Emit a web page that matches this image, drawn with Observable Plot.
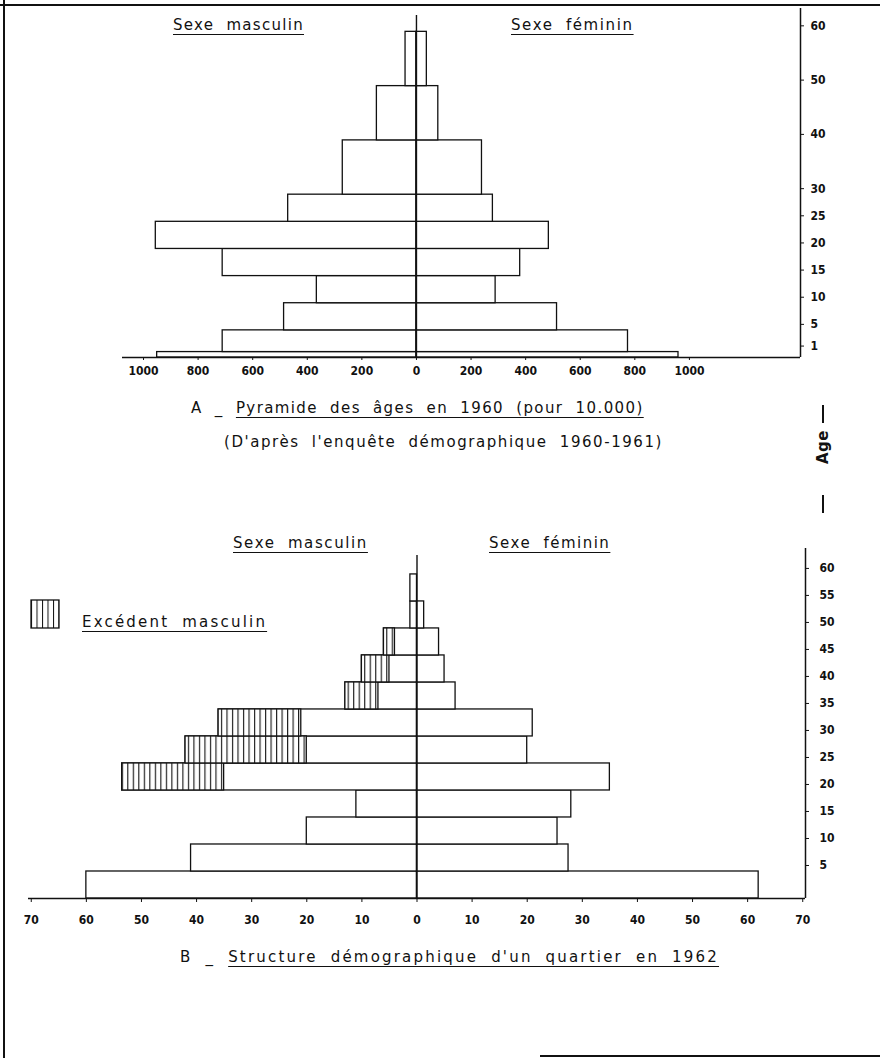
<!DOCTYPE html>
<html>
<head>
<meta charset="utf-8">
<script src="https://cdn.jsdelivr.net/npm/d3@7"></script>
<script src="https://cdn.jsdelivr.net/npm/@observablehq/plot@0.6"></script>
<style>
  body { margin: 0; background: #fff; }
  #page { position: relative; width: 880px; height: 1058px; background: #fff; overflow: hidden;
          font-family: "DejaVu Sans", sans-serif; color: #111; }
  .lbl { position: absolute; white-space: pre; font-size: 15px; line-height: 18px;
         letter-spacing: 0.5px; word-spacing: 6px; }
  .u { text-decoration: underline; text-decoration-thickness: 1.3px; text-underline-offset: 4px; }
  .plot { position: absolute; left: 0; }
  .line { position: absolute; background: #111; }
</style>
</head>
<body>
<div id="page">
  <div class="line" style="left:3px;top:0;width:1.5px;height:1058px"></div>
  <div class="line" style="left:0;top:4px;width:880px;height:1.5px"></div>
  <div class="line" style="left:540px;top:1055px;width:340px;height:1.5px"></div>

  <div id="plotA" class="plot" style="top:0"></div>
  <div id="plotB" class="plot" style="top:500px"></div>

  <div class="lbl u" style="left:173px;top:16px;letter-spacing:1.3px">Sexe masculin</div>
  <div class="lbl u" style="left:511px;top:16px;letter-spacing:1.6px">Sexe féminin</div>

  <div class="lbl" style="left:191px;top:399px;letter-spacing:1.4px">A _ <span class="u">Pyramide des âges en 1960 (pour 10.000)</span></div>
  <div class="lbl" style="left:224px;top:433px;letter-spacing:1.55px">(D'après l'enquête démographique 1960-1961)</div>

  <div class="line" style="left:822px;top:405px;width:1.5px;height:18px"></div>
  <div class="lbl" style="left:800px;top:438px;width:46px;text-align:center;font-weight:bold;transform:rotate(-90deg);letter-spacing:0.5px">Age</div>
  <div class="line" style="left:822px;top:495px;width:1.5px;height:18px"></div>

  <div class="lbl u" style="left:233px;top:534px;letter-spacing:1.6px">Sexe masculin</div>
  <div class="lbl u" style="left:489px;top:534px;letter-spacing:1.5px">Sexe féminin</div>

  <svg style="position:absolute;left:30px;top:599px" width="31" height="31">
    <defs>
      <pattern id="hatchLegend" patternUnits="userSpaceOnUse" width="5.5" height="10" x="1">
        <rect width="5.5" height="10" fill="white"></rect>
        <line x1="0.5" y1="0" x2="0.5" y2="10" stroke="#111" stroke-width="1"></line>
      </pattern>
    </defs>
    <rect x="1" y="1" width="28" height="28" fill="url(#hatchLegend)" stroke="#111" stroke-width="1.3"></rect>
  </svg>
  <div class="lbl u" style="left:82px;top:613px;letter-spacing:2.2px">Excédent masculin</div>

  <div class="lbl" style="left:180px;top:948px;letter-spacing:2.2px">B _ <span class="u">Structure démographique d'un quartier en 1962</span></div>
</div>

<script>
// ---------- Panel A : Pyramide des âges en 1960 (pour 10.000) ----------
const ageStartA = [0, 1, 5, 10, 15, 20, 25, 30, 40, 50];
const ageEndA   = [1, 5, 10, 15, 20, 25, 30, 40, 50, 60];
const maleA     = [950, 710, 485, 365, 710, 955, 470, 270, 145, 40];
const femaleA   = [960, 775, 515, 290, 380, 485, 280, 240, 80, 38];
const xTicksA   = [-1000, -800, -600, -400, -200, 0, 200, 400, 600, 800, 1000];
const yTicksA   = [1, 5, 10, 15, 20, 25, 30, 40, 50, 60];
const xDomainA  = [-1077, 1407];
const yDomainA  = [0, 64.3];
const centerTopA = 63;

// ---------- Panel B : Structure démographique d'un quartier en 1962 ----------
const ageStartB = [0, 5, 10, 15, 20, 25, 30, 35, 40, 45, 50, 55];
const ageEndB   = [5, 10, 15, 20, 25, 30, 35, 40, 45, 50, 55, 60];
const maleB     = [60, 41, 20, 11, 53.5, 42, 36, 13, 10, 6, 1.2, 1.2];
const femaleB   = [62, 27.5, 25.5, 28, 35, 20, 21, 7, 5, 4, 1.3, 0];
const excessB   = [0, 0, 0, 0, 18.5, 22, 15, 6, 5, 2, 0, 0];
const xTicksB   = [-70, -60, -50, -40, -30, -20, -10, 0, 10, 20, 30, 40, 50, 60, 70];
const yTicksB   = [5, 10, 15, 20, 25, 30, 35, 40, 45, 50, 55, 60];
const xDomainB  = [-70.5, 70.5];
const yDomainB  = [0, 64.8];
const centerTopB = 63.5;

const ink = "#111";
const absFormat = d => String(Math.abs(d));
const tickFont = {fontFamily: "'DejaVu Sans Condensed', 'DejaVu Sans', sans-serif", fontSize: "12px", fontWeight: "bold", background: "transparent", overflow: "visible"};

const dataA = ageStartA.map((a, i) => ({a0: a, a1: ageEndA[i], m: maleA[i], f: femaleA[i]}));
const dataB = ageStartB.map((a, i) => ({a0: a, a1: ageEndB[i], m: maleB[i], f: femaleB[i], e: excessB[i]}));

const plotA = Plot.plot({
  width: 880, height: 385,
  marginLeft: 122, marginRight: 80, marginTop: 8, marginBottom: 28,
  x: {domain: xDomainA, label: null},
  y: {domain: yDomainA, label: null},
  style: tickFont,
  marks: [
    Plot.rect(dataA, {x1: d => -d.m, x2: 0, y1: "a0", y2: "a1", fill: "white", stroke: ink, strokeWidth: 1.3}),
    Plot.rect(dataA.filter(d => d.f > 0), {x1: 0, x2: "f", y1: "a0", y2: "a1", fill: "white", stroke: ink, strokeWidth: 1.3}),
    Plot.ruleX([0], {y1: 0, y2: centerTopA, stroke: ink, strokeWidth: 1.4}),
    Plot.ruleY([0], {stroke: ink, strokeWidth: 1.5}),
    Plot.ruleX([xDomainA[1]], {stroke: ink, strokeWidth: 1.5}),
    Plot.axisX({ticks: xTicksA, tickFormat: absFormat, tickSize: 3, tickPadding: 6, label: null, stroke: ink, fill: ink}),
    Plot.axisY({anchor: "right", ticks: yTicksA, tickFormat: absFormat, tickSize: 3, tickPadding: 7, dy: -6, label: null, stroke: ink, fill: ink})
  ]
});
document.getElementById("plotA").append(plotA);

const plotB = Plot.plot({
  width: 880, height: 430,
  marginLeft: 28, marginRight: 75, marginTop: 48, marginBottom: 32,
  x: {domain: xDomainB, label: null},
  y: {domain: yDomainB, label: null},
  style: tickFont,
  marks: [
    Plot.rect(dataB.filter(d => d.m > 0), {x1: d => -d.m, x2: 0, y1: "a0", y2: "a1", fill: "white", stroke: ink, strokeWidth: 1.3}),
    Plot.rect(dataB.filter(d => d.f > 0), {x1: 0, x2: "f", y1: "a0", y2: "a1", fill: "white", stroke: ink, strokeWidth: 1.3}),
    Plot.rect(dataB.filter(d => d.e > 0), {x1: d => -d.m, x2: d => -(d.m - d.e), y1: "a0", y2: "a1", fill: "url(#hatchB)", stroke: ink, strokeWidth: 1.3}),
    Plot.ruleX([0], {y1: 0, y2: centerTopB, stroke: ink, strokeWidth: 1.4}),
    Plot.ruleY([0], {stroke: ink, strokeWidth: 1.5}),
    Plot.ruleX([xDomainB[1]], {stroke: ink, strokeWidth: 1.5}),
    Plot.axisX({ticks: xTicksB, tickFormat: absFormat, tickSize: 4, tickPadding: 13, label: null, stroke: ink, fill: ink}),
    Plot.axisY({anchor: "right", ticks: yTicksB, tickFormat: absFormat, tickSize: 3, tickPadding: 11, dy: -6, label: null, stroke: ink, fill: ink})
  ]
});
const ns = "http://www.w3.org/2000/svg";
const defs = document.createElementNS(ns, "defs");
defs.innerHTML = '<pattern id="hatchB" patternUnits="userSpaceOnUse" width="5.51" height="10" x="0.5">' +
  '<rect width="5.51" height="10" fill="white"></rect>' +
  '<line x1="0.6" y1="0" x2="0.6" y2="10" stroke="#111" stroke-width="1.1"></line></pattern>';
plotB.insertBefore(defs, plotB.firstChild);
document.getElementById("plotB").append(plotB);
</script>
</body>
</html>
